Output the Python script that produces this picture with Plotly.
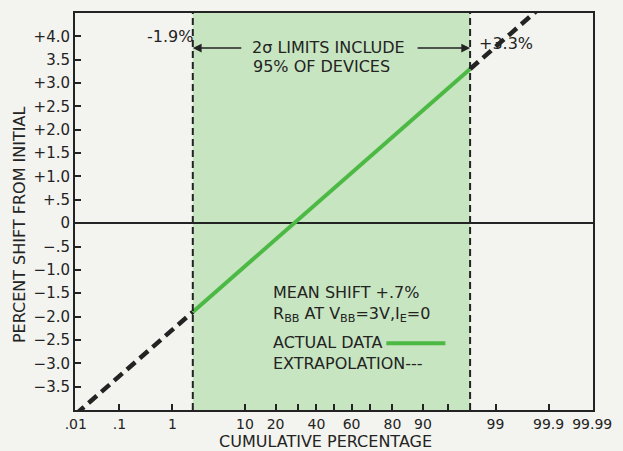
from statistics import NormalDist
import plotly.graph_objects as go

# ---- data -------------------------------------------------------------
# Measured 2-sigma span (cumulative %) and shift at each end
actual_pct = [2.1, 97.5]
actual_shift = [-1.9, 3.3]

# Extrapolated fit beyond the measured span (clipped by the frame)
extrap_low_pct = [0.01, 2.1]
extrap_low_shift = [-4.09, -1.9]
extrap_high_pct = [97.5, 99.9]
extrap_high_shift = [3.3, 4.77]

# Probability-scale ticks
tick_pct = [0.01, 0.1, 1, 10, 20, 30, 40, 50, 60, 70, 80, 90, 95, 99, 99.9, 99.99]
tick_text = [".01", ".1", "1", "10", "20", "", "40", "", "60", "", "80", "90", "", "99", "99.9", "99.99"]

y_ticks = [4.0, 3.5, 3.0, 2.5, 2.0, 1.5, 1.0, 0.5, 0, -0.5, -1.0, -1.5, -2.0, -2.5, -3.0, -3.5]
y_tick_text = ["+4.0", "3.5", "+3.0", "+2.5", "+2.0", "+1.5", "+1.0", "+.5", "0",
               "−.5", "−1.0", "−1.5", "−2.0", "−2.5", "−3.0", "−3.5"]

# ---- helpers ----------------------------------------------------------
nd = NormalDist()


def z(pcts):
    """Map cumulative percentages onto a normal-probability axis."""
    return [nd.inv_cdf(p / 100.0) for p in pcts]


INK = "#232323"
GREEN_FILL = "rgb(200,229,193)"
GREEN_LINE = "#4cb944"
PAPER = "#f3f3ef"
FONT = "DejaVu Sans, sans-serif"

z_lo, z_hi = z(actual_pct)
z_edge = 3.73

fig = go.Figure()

# extrapolation (dashed)
for xs, ys in ((extrap_low_pct, extrap_low_shift), (extrap_high_pct, extrap_high_shift)):
    fig.add_trace(go.Scatter(
        x=z(xs), y=ys, mode="lines",
        line=dict(color=INK, width=4.5, dash="11px,6px"),
        hoverinfo="skip", showlegend=False))

# actual data (solid green)
fig.add_trace(go.Scatter(
    x=z(actual_pct), y=actual_shift, mode="lines",
    line=dict(color=GREEN_LINE, width=4),
    hoverinfo="skip", showlegend=False))

shapes = [
    # 2-sigma band
    dict(type="rect", xref="x", yref="paper", x0=z_lo, x1=z_hi, y0=0, y1=1,
         fillcolor=GREEN_FILL, line=dict(width=0), layer="below"),
    dict(type="line", xref="x", yref="paper", x0=z_lo, x1=z_lo, y0=0, y1=1,
         line=dict(color=INK, width=2, dash="7px,4px")),
    dict(type="line", xref="x", yref="paper", x0=z_hi, x1=z_hi, y0=0, y1=1,
         line=dict(color=INK, width=2, dash="7px,4px")),
    # legend sample for actual data
    dict(type="line", xref="paper", yref="paper", x0=0.601, x1=0.715, y0=0.168, y1=0.168,
         line=dict(color=GREEN_LINE, width=4)),
]

txt = dict(family=FONT, size=16, color=INK)
annotations = [
    dict(text="-1.9%", xref="paper", yref="paper", x=0.232, y=0.94,
         xanchor="right", yanchor="middle", showarrow=False, font=txt),
    dict(text="+3.3%", xref="paper", yref="paper", x=0.776, y=0.922,
         xanchor="left", yanchor="middle", showarrow=False, font=txt),
    dict(text="2σ LIMITS INCLUDE", xref="paper", yref="paper", x=0.337, y=0.913,
         xanchor="left", yanchor="middle", showarrow=False, font=txt),
    dict(text="95% OF DEVICES", xref="paper", yref="paper", x=0.339, y=0.866,
         xanchor="left", yanchor="middle", showarrow=False, font=txt),
    # arrows to the band edges
    dict(text="", x=z_lo, y=3.75, xref="x", yref="y", ax=50, ay=0,
         showarrow=True, arrowhead=2, arrowsize=1.1, arrowwidth=1.6, arrowcolor=INK),
    dict(text="", x=z_hi, y=3.75, xref="x", yref="y", ax=-54, ay=0,
         showarrow=True, arrowhead=2, arrowsize=1.1, arrowwidth=1.6, arrowcolor=INK),
    # key block
    dict(text="MEAN SHIFT +.7%", xref="paper", yref="paper", x=0.378, y=0.296,
         xanchor="left", yanchor="middle", showarrow=False, font=txt),
    dict(text="R<sub>BB</sub> AT V<sub>BB</sub>=3V,I<sub>E</sub>=0", xref="paper", yref="paper",
         x=0.378, y=0.24, xanchor="left", yanchor="middle", showarrow=False, font=txt),
    dict(text="ACTUAL DATA", xref="paper", yref="paper", x=0.378, y=0.17,
         xanchor="left", yanchor="middle", showarrow=False, font=txt),
    dict(text="EXTRAPOLATION---", xref="paper", yref="paper", x=0.378, y=0.118,
         xanchor="left", yanchor="middle", showarrow=False, font=txt),
    # axis titles
    dict(text="PERCENT SHIFT FROM INITIAL", xref="paper", yref="paper", x=-0.106, y=0.466,
         textangle=-90, xanchor="center", yanchor="middle", showarrow=False,
         font=dict(family=FONT, size=16, color=INK)),
    dict(text="CUMULATIVE PERCENTAGE", xref="paper", yref="paper", x=0.484, y=-0.08,
         xanchor="center", yanchor="middle", showarrow=False,
         font=dict(family=FONT, size=16, color=INK)),
]

fig.update_layout(
    width=623, height=451,
    margin=dict(l=75, r=29, t=11, b=41),
    paper_bgcolor=PAPER, plot_bgcolor=PAPER,
    shapes=shapes, annotations=annotations,
    showlegend=False,
    font=dict(family=FONT, size=15, color=INK),
)

fig.update_xaxes(
    range=[-z_edge, z_edge], tickmode="array",
    tickvals=z(tick_pct), ticktext=tick_text,
    ticks="inside", ticklen=6, tickwidth=1.5, tickcolor=INK,
    showgrid=False, zeroline=False,
    showline=True, linecolor=INK, linewidth=2, mirror=True,
    tickfont=dict(family=FONT, size=14, color=INK),
)
fig.update_yaxes(
    range=[-4.0, 4.5], tickmode="array",
    tickvals=y_ticks, ticktext=y_tick_text,
    ticks="inside", ticklen=6, tickwidth=1.5, tickcolor=INK,
    showgrid=False, zeroline=True, zerolinecolor=INK, zerolinewidth=1.5,
    showline=True, linecolor=INK, linewidth=2, mirror=True,
    tickfont=dict(family=FONT, size=15, color=INK),
)

fig.write_html("out.html")
